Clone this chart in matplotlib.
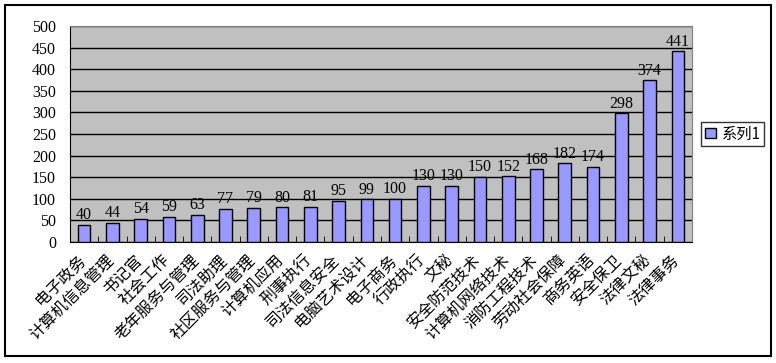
import matplotlib.pyplot as plt
import matplotlib.patches as mpatches
import matplotlib.transforms as mtransforms
import numpy as np

categories = ['电子政务', '计算机信息管理', '书记官', '社会工作', '老年服务与管理', '司法助理',
              '社区服务与管理', '计算机应用', '刑事执行', '司法信息安全', '电脑艺术设计', '电子商务',
              '行政执行', '文秘', '安全防范技术', '计算机网络技术', '消防工程技术', '劳动社会保障',
              '商务英语', '安全保卫', '法律文秘', '法律事务']
values = [40, 44, 54, 59, 63, 77, 79, 80, 81, 95, 99, 100, 130, 130, 150, 152, 168, 182, 174,
          298, 374, 441]
series_name = '系列1'
yticks = list(range(0, 501, 50))

plt.rcParams['font.family'] = ['Noto Sans CJK SC', 'DejaVu Sans']

fig = plt.figure(figsize=(7.76, 3.63), dpi=100)
ax = fig.add_axes([70 / 776, 1 - 242 / 363, 622 / 776, 216 / 363])
ax.set_facecolor('#C0C0C0')

x = np.arange(len(categories))
bars = ax.bar(x, values, width=0.45, color='#9999FF', edgecolor='black', linewidth=1,
              label=series_name, zorder=3)
for xi, v in zip(x, values):
    ax.text(xi, v + 4, str(v), ha='center', va='bottom', fontsize=11.5,
            family='Liberation Serif', zorder=4)

ax.set_xlim(-0.5, len(categories) - 0.5)
ax.set_ylim(0, 500)
ax.set_yticks(yticks)
ax.set_yticklabels([str(t) for t in yticks], family='Liberation Serif', fontsize=11.5)
ax.yaxis.grid(True, color='black', linewidth=1, zorder=0)
ax.set_axisbelow(True)
ax.tick_params(axis='y', length=0, pad=10)

ax.set_xticks(x)
ax.set_xticklabels(categories, rotation=45, ha='right', rotation_mode='anchor', fontsize=11.5)
ax.tick_params(axis='x', length=0, pad=7)
shift = mtransforms.ScaledTranslation(-7 / 100, 0, fig.dpi_scale_trans)
for lab in ax.get_xticklabels():
    lab.set_transform(lab.get_transform() + shift)
ax.set_xticks(np.arange(-0.5, len(categories), 1), minor=True)
ax.tick_params(axis='x', which='minor', direction='in', length=4)

for s in ['top', 'right']:
    ax.spines[s].set_color('#808080')
for s in ['left', 'bottom']:
    ax.spines[s].set_color('black')

leg = fig.legend(loc='center left', bbox_to_anchor=(701 / 776, 1 - 134 / 363), frameon=True,
                 fancybox=False, edgecolor='black', fontsize=11, handlelength=0.7,
                 handleheight=0.7, handletextpad=0.4, borderpad=0.25, borderaxespad=0)
leg.get_frame().set_linewidth(1)

fig.patches.append(mpatches.Rectangle((5 / 776, 1 - 356 / 363), 766 / 776, 351 / 363,
                                      transform=fig.transFigure, fill=False,
                                      edgecolor='black', linewidth=1.5))

fig.savefig('out.png', dpi=100)
